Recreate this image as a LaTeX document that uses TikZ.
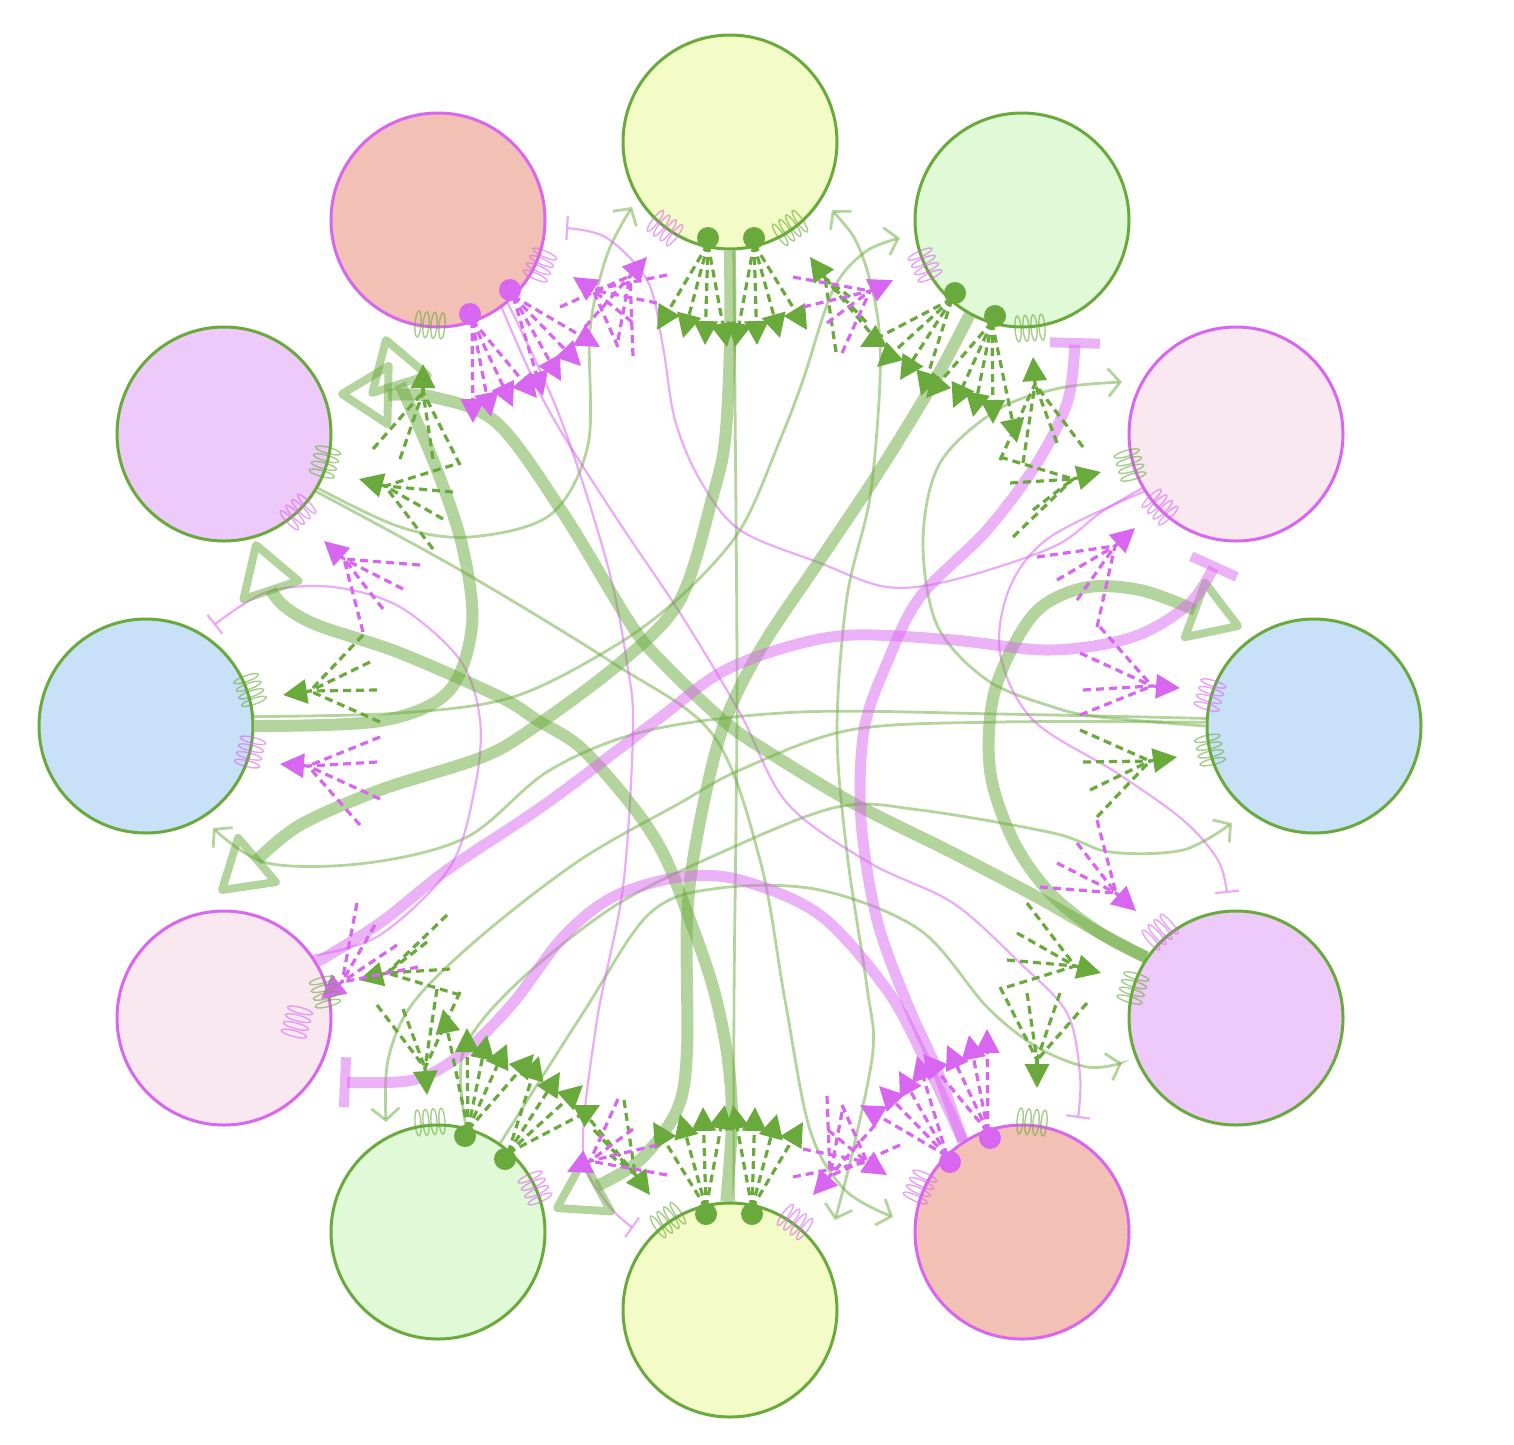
\documentclass[tikz,border=0pt]{standalone}
\usetikzlibrary{arrows.meta,calc}
\definecolor{gC}{RGB}{106,170,60}
\definecolor{mC}{RGB}{217,102,240}
\definecolor{fY}{RGB}{243,252,198}
\definecolor{fG}{RGB}{224,250,216}
\definecolor{fP}{RGB}{250,232,241}
\definecolor{fB}{RGB}{200,225,248}
\definecolor{fL}{RGB}{238,202,250}
\definecolor{fS}{RGB}{242,192,180}
\tikzset{
 circ/.style={circle, minimum size=214pt, inner sep=0pt, line width=3pt},
 thickG/.style={draw=gC, opacity=0.5, line width=12pt},
 thickM/.style={draw=mC, opacity=0.5, line width=11pt},
 thinG/.style={draw=gC, opacity=0.5, line width=2.8pt},
 thinM/.style={draw=mC, opacity=0.55, line width=2.2pt},
 bigtri/.style={draw=gC, opacity=0.5, line width=8pt, line join=round},
 bigbar/.style={-{Bar[width=50pt,line width=10pt]}},
 smalltip/.style={-{Straight Barb[length=12pt,width=28pt,line width=2.8pt]}},
 smallbar/.style={-{Bar[width=24pt,line width=2.2pt]}},
 fandl/.style={line width=3.2pt, dash pattern=on 8pt off 5pt},
 fand/.style={fandl, -{Triangle[length=24pt,width=24pt]}},
 springst/.style={line width=1.4pt, opacity=0.6},
 sm/.style={smooth, tension=0.55}
}
\newcommand{\fanout}[4]{\foreach \qx/\qy in {#4}{\draw[fand,#1] (#2,#3) -- (\qx,\qy);}}
\newcommand{\fanin}[6]{\foreach \qx/\qy in {#6}{\draw[fandl,#1] (\qx,\qy) -- (#4,#5);}\draw[fand,#1] (#4,#5) -- (#2,#3);}
\newcommand{\spr}[4]{\begin{scope}[shift={(#1,#2)},rotate=#3-90]\foreach \k in {-12,-4,4,12}{\draw[springst,draw=#4] (\k,0) ellipse [x radius=3,y radius=13];}\end{scope}}
\newcommand{\headtri}[4]{\draw[bigtri] (#1,#2) -- ($(#3,#4)!29pt!90:(#1,#2)$) -- ($(#3,#4)!29pt!-90:(#1,#2)$) -- cycle;}
\newcommand{\halfset}{%
\fanout{gC}{708}{244}{657/330,683/338,705/345,727/347}%
\fanout{gC}{754}{244}{735/347,757/345,780/338,807/330}%
\fanout{mC}{472}{320}{473/423,491/417,513/407,537/398}%
\fanout{mC}{513}{296}{543/396,561/381,581/366,600/347}%
\fanout{gC}{952}{299}{860/347,877/367,900/380,921/396}%
\fanout{gC}{992}{322}{926/398,953/408,973/417,993/424,1017/443}%
\fanin{mC}{647}{257}{630}{276}{560/307,585/327,618/340,633/356}%
\fanin{mC}{573}{277}{593}{290}{667/275,657/303,632/322,618/347}%
\fanin{gC}{810}{257}{825}{278}{850/297,866/322,878/342,836/352}%
\fanin{mC}{893}{280}{870}{291}{793/277,803/307,827/323,842/353}%
\fanin{gC}{1033}{357}{1035}{384}{1000/460,1023/463,1057/443,1083/447}%
\fanin{gC}{1101}{472}{1073}{479}{1000/457,1010/483,1033/510,1013/537}%
\fanin{mC}{1180}{688}{1152}{686}{1080/653,1083/690,1080/715,1100/627}%
\fanin{gC}{1177}{757}{1150}{761}{1080/730,1083/762,1090/790,1097/817}%
\fanin{mC}{1136}{911}{1116}{893}{1040/887,1057/863,1077/843,1097/820}%
\fanin{gC}{1101}{973}{1075}{966}{1007/960,1017/933,1027/903,1007/987}%
\fanin{gC}{1037}{1088}{1037}{1060}{1000/987,1027/993,1060/993,1087/1003}%
\fill[gC] (708,238) circle (11pt);
\fill[gC] (754,238) circle (11pt);
\fill[gC] (955,293) circle (11pt);
\fill[gC] (995,316) circle (11pt);
\fill[mC] (470,314) circle (11pt);
\fill[mC] (510,290) circle (11pt);
}
\begin{document}
\begin{tikzpicture}[x=1pt,y=-1pt]
\useasboundingbox (0,0) rectangle (1514,1444);
% circles
\node[circ, fill=fY, draw=gC] (ty) at (730,142) {};
\node[circ, fill=fG, draw=gC] (tr) at (1022,220) {};
\node[circ, fill=fP, draw=mC] (ru) at (1236,434) {};
\node[circ, fill=fB, draw=gC] (rb) at (1314,726) {};
\node[circ, fill=fL, draw=gC] (rl) at (1236,1018) {};
\node[circ, fill=fS, draw=mC] (br) at (1022,1232) {};
\node[circ, fill=fY, draw=gC] (by) at (730,1310) {};
\node[circ, fill=fG, draw=gC] (bl) at (438,1232) {};
\node[circ, fill=fP, draw=mC] (ll) at (224,1018) {};
\node[circ, fill=fB, draw=gC] (lb) at (146,726) {};
\node[circ, fill=fL, draw=gC] (lu) at (224,434) {};
\node[circ, fill=fS, draw=mC] (tl) at (438,220) {};
% thin green
\draw[thinG,smalltip] plot[sm] coordinates {(lu.330) (400,527) (470,537) (550,515) (588,445) (590,330) (607,255) (632,207)};
\draw[thinG,smalltip] plot[sm] coordinates {(lu.328) (460,570) (613,663) (713,735) (760,860) (785,1000) (810,1130) (845,1190) (893,1217)};
\draw[thinG,smalltip] plot[sm] coordinates {(lb.5) (400,713) (513,697) (613,647) (680,597) (740,530) (780,440) (803,380) (833,290) (865,252) (900,238)};
\draw[thinG,{Straight Barb[length=12pt,width=28pt,line width=2.8pt]}-{Straight Barb[length=12pt,width=28pt,line width=2.8pt]}] plot[sm] coordinates {(832,210) (860,250) (877,313) (880,380) (870,497) (847,597) (837,730) (847,853) (867,987) (873,1050) (853,1150) (835,1220)};
\draw[thinG,smalltip] plot[sm] coordinates {(rb.180) (1100,717) (1053,707) (987,680) (937,625) (923,540) (940,463) (997,410) (1060,388) (1122,382)};
\draw[thinG,smalltip] plot[sm] coordinates {(rb.178) (1000,722) (850,730) (740,770) (680,803) (580,860) (480,937) (413,1003) (388,1060) (386,1122)};
\draw[thinG,smalltip] plot[sm] coordinates {(bl.75) (463,1053) (513,987) (613,907) (720,853) (837,807) (920,810) (1053,833) (1110,852) (1183,850) (1232,823)};
\draw[thinG,smalltip] plot[sm] coordinates {(bl.55) (583,1013) (650,913) (720,888) (820,890) (920,930) (987,1007) (1037,1047) (1087,1067) (1122,1063)};
\draw[thinG,smalltip] plot[sm] coordinates {(rb.176) (1000,714) (800,712) (650,730) (550,770) (467,837) (367,863) (267,863) (213,828)};
\draw[thinG] plot[sm] coordinates {(ty.-88) (735,400) (737,700) (734,1000) (by.88)};
% thin magenta
\draw[thinM,smallbar] plot[sm] coordinates {(ru.210) (1100,513) (1053,547) (953,580) (887,587) (820,563) (740,530) (700,480) (675,420) (663,347) (648,282) (607,238) (566,228)};
\draw[thinM,smallbar] plot[sm] coordinates {(ll.35) (380,935) (450,867) (475,787) (480,720) (460,660) (400,607) (333,587) (267,592) (214,625)};
\draw[thinM,smallbar] plot[sm] coordinates {(ru.212) (1050,537) (1010,587) (1000,653) (1033,720) (1117,773) (1183,820) (1218,860) (1227,893)};
\draw[thinM,smallbar] plot[sm] coordinates {(tl.306) (547,407) (613,513) (680,613) (740,713) (787,803) (870,863) (953,903) (1020,963) (1067,1013) (1080,1075) (1078,1118)};
\draw[thinM,smallbar] plot[sm] coordinates {(tl.310) (560,417) (607,563) (627,663) (633,730) (623,887) (597,1020) (583,1150) (607,1203) (633,1228)};
% thick green
\draw[thickG] plot[sm] coordinates {(lb.0) (380,721) (448,692) (472,625) (462,545) (435,465) (400,384)};
\headtri{386}{340}{400}{384}
\draw[thickG] plot[sm] coordinates {(rl.146) (1100,933) (1037,897) (953,853) (853,803) (770,753) (725,722) (663,663) (630,623) (563,513) (497,423) (433,397) (388,395)};
\headtri{342}{394}{388}{395}
\draw[thickG] plot[sm] coordinates {(by.92) (732,1120) (727,1053) (713,987) (690,920) (663,853) (630,803) (580,747) (537,720) (500,697) (400,653) (317,625) (284,606) (271,590)};
\headtri{256}{545}{271}{590}
\draw[thickG] plot[sm] coordinates {(ty.-90) (730,345) (725,440) (713,495) (680,600) (620,663) (530,730) (480,758) (380,790) (300,825) (257,860)};
\headtri{222}{890}{257}{860}
\draw[thickG] plot[sm] coordinates {(rl.146) (1100,933) (1050,893) (1013,840) (990,770) (995,690) (1033,615) (1083,588) (1140,590) (1195,610)};
\headtri{1238}{626}{1195}{610}
\draw[thickG] plot[sm] coordinates {(tr.241) (935,380) (880,470) (820,560) (760,650) (722,730) (697,837) (687,920) (687,1050) (677,1110) (640,1160) (597,1186)};
\headtri{557}{1208}{597}{1186}
% thick magenta
\draw[thickM,bigbar] plot[sm] coordinates {(br.123) (937,1070) (907,1003) (877,920) (861,820) (864,730) (887,663) (920,597) (987,530) (1037,463) (1068,400) (1075,338)};
\draw[thickM,bigbar] plot[sm] coordinates {(br.123) (925,1060) (887,990) (820,915) (740,880) (680,877) (613,897) (563,937) (513,1003) (463,1053) (413,1080) (340,1082)};
\draw[thickM,bigbar] plot[sm] coordinates {(ll.31) (380,923) (447,870) (547,803) (657,720) (720,673) (787,647) (853,635) (953,640) (1050,650) (1133,637) (1190,603) (1216,562)};
% fans
\halfset
\begin{scope}[rotate around={180:(730,726)}]
\halfset
\end{scope}
\fanin{mC}{1135}{528}{1115}{546}{1037/557,1057/580,1077/600,1097/627}
\fanin{mC}{321}{999}{342}{982}{357/903,375/925,397/945,418/967}
% springs
\spr{665}{228}{232.9}{mC}
\spr{790}{228}{304.9}{gC}
\spr{925}{265}{204.9}{mC}
\spr{1030}{328}{274.2}{gC}
\spr{1130}{465}{196.3}{gC}
\spr{1160}{507}{223.8}{mC}
\spr{1210}{695}{163.4}{mC}
\spr{1210}{750}{193}{gC}
\spr{1133}{988}{163.8}{gC}
\spr{1160}{932}{131.5}{mC}
\spr{1032}{1122}{84.8}{gC}
\spr{920}{1187}{156.2}{mC}
\spr{668}{1220}{124.6}{gC}
\spr{795}{1222}{53.6}{mC}
\spr{430}{1122}{94.2}{gC}
\spr{535}{1188}{24.4}{mC}
\spr{325}{992}{14.4}{gC}
\spr{297}{1022}{-15}{mC}
\spr{250}{690}{19.1}{gC}
\spr{250}{752}{-14}{mC}
\spr{325}{462}{-15.5}{gC}
\spr{298}{512}{-46.5}{mC}
\spr{540}{265}{-23.8}{mC}
\spr{430}{325}{-94.4}{gC}
\end{tikzpicture}
\end{document}
